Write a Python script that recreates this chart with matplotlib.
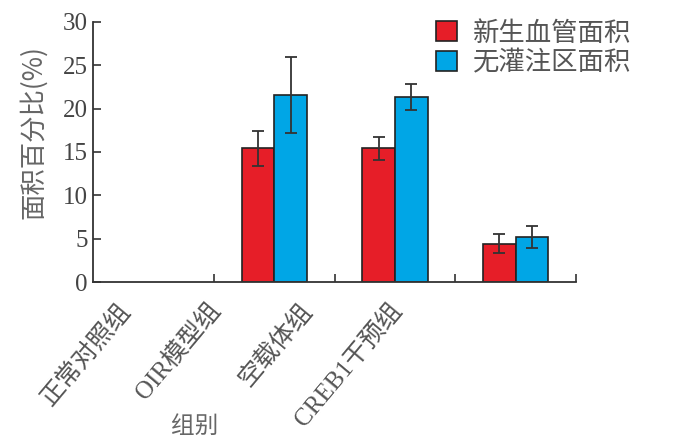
import numpy as np
import matplotlib
matplotlib.use("Agg")
import matplotlib.pyplot as plt
from matplotlib.patches import Patch

groups = ["正常对照组", "OIR模型组", "空载体组", "CREB1干预组"]
series_names = ["新生血管面积", "无灌注区面积"]
neo_mean = [0, 15.4, 15.4, 4.4]
neo_err = [0, 2.0, 1.3, 1.1]
npa_mean = [0, 21.6, 21.3, 5.2]
npa_err = [0, 4.4, 1.5, 1.25]
yticks = [0, 5, 10, 15, 20, 25, 30]

RED = "#e61e28"
BLUE = "#00a6e6"
SERIF = ["Liberation Serif", "Noto Sans CJK SC"]
CJK = ["Noto Sans CJK SC", "DejaVu Sans"]

fig = plt.figure(figsize=(7, 4.45), dpi=100)
ax = fig.add_axes([0.133, 0.366, 0.690, 0.585])

x = np.arange(len(groups))
w = 0.27
ekw = dict(ecolor="#333333", elinewidth=1.3, capsize=4, capthick=1.3)
for i in x:
    if neo_mean[i] > 0:
        ax.bar(i - w / 2, neo_mean[i], w, yerr=neo_err[i], color=RED,
               edgecolor="#222222", linewidth=1.2, error_kw=ekw, zorder=2)
    if npa_mean[i] > 0:
        ax.bar(i + w / 2, npa_mean[i], w, yerr=npa_err[i], color=BLUE,
               edgecolor="#222222", linewidth=1.2, error_kw=ekw, zorder=2)

ax.set_xlim(-0.5, len(groups) - 0.5)
ax.set_ylim(0, 30)
for s in ["top", "right"]:
    ax.spines[s].set_visible(False)
for s in ["left", "bottom"]:
    ax.spines[s].set_color("#333333")
    ax.spines[s].set_linewidth(1.3)

ax.set_yticks(yticks)
ax.set_yticklabels([str(v) for v in yticks], family=SERIF, fontsize=18, color="#444444")
ax.tick_params(axis="y", direction="in", length=6, width=1.2, color="#333333", pad=4)

# group boundary ticks (inward), labels placed separately
ax.set_xticks(x + 0.5, minor=True)
ax.tick_params(axis="x", which="minor", direction="in", length=6, width=1.2, color="#333333")
label_pos = x * 0.75 - 0.30
ax.set_xticks(label_pos)
ax.set_xticklabels(groups, family=SERIF, fontsize=18, color="#555555",
                   rotation=50, ha="right", va="top", rotation_mode="anchor")
ax.tick_params(axis="x", which="major", length=0, pad=12)

ax.set_ylabel("面积百分比(%)", family=CJK, fontsize=19, color="#666666")
ax.yaxis.set_label_coords(-0.095, 0.575)
ax.set_xlabel("组别", family=CJK, fontsize=17, color="#666666")
ax.xaxis.set_label_coords(0.211, -0.51)

handles = [Patch(facecolor=RED, edgecolor="#222222", linewidth=1.2),
           Patch(facecolor=BLUE, edgecolor="#222222", linewidth=1.2)]
leg = ax.legend(handles, series_names, loc="upper left", bbox_to_anchor=(0.66, 1.10),
                frameon=False, handlelength=0.8, handleheight=0.8, handletextpad=0.6,
                labelspacing=0.1, prop=dict(family=CJK, size=19))
for t in leg.get_texts():
    t.set_color("#555555")

fig.savefig("out.png", dpi=100)
